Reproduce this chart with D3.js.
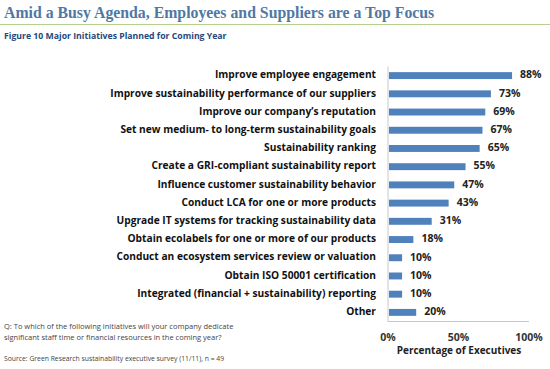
<!DOCTYPE html>
<html>
<head>
<meta charset="utf-8">
<script src="https://cdn.jsdelivr.net/npm/d3@7"></script>
<style>
  body { margin: 0; background: #fff; }
  text { font-family: "Open Sans", "Liberation Sans", sans-serif; }
</style>
</head>
<body>
<div id="chart"></div>
<script>
var width = 550,
    height = 369,
    margin = {top: 66.5, bottom: 47.5, left: 388, right: 21};

var initiatives = [
  "Improve employee engagement",
  "Improve sustainability performance of our suppliers",
  "Improve our company\u2019s reputation",
  "Set new medium- to long-term sustainability goals",
  "Sustainability ranking",
  "Create a GRI-compliant sustainability report",
  "Influence customer sustainability behavior",
  "Conduct LCA for one or more products",
  "Upgrade IT systems for tracking sustainability data",
  "Obtain ecolabels for one or more of our products",
  "Conduct an ecosystem services review or valuation",
  "Obtain ISO 50001 certification",
  "Integrated (financial + sustainability) reporting",
  "Other"
];
var percents = [88, 73, 69, 67, 65, 55, 47, 43, 31, 18, 10, 10, 10, 20];
var xTicks = [0, 50, 100];

var data = initiatives.map(function(d, i) { return {name: d, v: percents[i]}; });

var svg = d3.select('#chart')
    .append('svg')
    .attr('width', width)
    .attr('height', height);

svg.append("rect").attr("width", width).attr("height", height).attr("fill", "#fff");

// heading
svg.append("text")
    .attr("x", 4)
    .attr("y", 18)
    .attr("fill", "#4f78a3")
    .style("font-family", "'Liberation Serif', serif")
    .style("font-weight", "bold")
    .style("font-size", "15.8px")
    .text("Amid a Busy Agenda, Employees and Suppliers are a Top Focus");

svg.append("line")
    .attr("x1", 0).attr("x2", width)
    .attr("y1", 24.5).attr("y2", 24.5)
    .attr("stroke", "#b5cf8c")
    .attr("stroke-width", 1);

svg.append("text")
    .attr("x", 4)
    .attr("y", 39)
    .attr("fill", "#1f497d")
    .style("font-weight", "bold")
    .style("font-size", "8.7px")
    .text("Figure 10 Major Initiatives Planned for Coming Year");

var x = d3.scaleLinear()
    .domain([0, 100])
    .range([margin.left, width - margin.right]);

var y = d3.scaleBand()
    .domain(initiatives)
    .range([margin.top, height - margin.bottom])
    .paddingInner(0.62)
    .paddingOuter(0.31);

// axes lines
svg.append("line")
    .attr("x1", x(0)).attr("x2", x(0))
    .attr("y1", margin.top).attr("y2", height - margin.bottom)
    .attr("stroke", "#c8c8c8");
svg.append("line")
    .attr("x1", x(0)).attr("x2", x(100))
    .attr("y1", height - margin.bottom).attr("y2", height - margin.bottom)
    .attr("stroke", "#c8c8c8");

// bars
svg.append("g").selectAll("rect")
    .data(data)
    .enter().append("rect")
    .attr("x", x(0) + 1)
    .attr("y", function(d) { return y(d.name); })
    .attr("width", function(d) { return x(d.v) - x(0) - 1; })
    .attr("height", y.bandwidth())
    .attr("fill", "#4f81bd");

// value labels
svg.append("g").selectAll("text")
    .data(data)
    .enter().append("text")
    .attr("x", function(d) { return x(d.v) + 8; })
    .attr("y", function(d) { return y(d.name) + y.bandwidth() / 2; })
    .attr("dominant-baseline", "middle")
    .attr("fill", "#222")
    .style("font-weight", "bold")
    .style("font-size", "10.5px")
    .text(function(d) { return d.v + "%"; });

// category labels
svg.append("g").selectAll("text")
    .data(data)
    .enter().append("text")
    .attr("x", 376)
    .attr("y", function(d) { return y(d.name) + y.bandwidth() / 2; })
    .attr("text-anchor", "end")
    .attr("dominant-baseline", "middle")
    .attr("fill", "#111")
    .style("font-weight", "bold")
    .style("font-size", "10.2px")
    .text(function(d) { return d.name; });

// x ticks
svg.append("g").selectAll("text")
    .data(xTicks)
    .enter().append("text")
    .attr("x", function(d) { return x(d); })
    .attr("y", 338)
    .attr("text-anchor", "middle")
    .attr("dominant-baseline", "middle")
    .attr("fill", "#333")
    .style("font-weight", "bold")
    .style("font-size", "10.5px")
    .text(function(d) { return d + "%"; });

svg.append("text")
    .attr("x", 459)
    .attr("y", 351)
    .attr("text-anchor", "middle")
    .attr("dominant-baseline", "middle")
    .attr("fill", "#222")
    .style("font-weight", "bold")
    .style("font-size", "10px")
    .text("Percentage of Executives");

// footnotes
var notes = [
  {t: "Q: To which of the following initiatives will your company dedicate", y: 327, s: 7.5},
  {t: "significant staff time or financial resources in the coming year?", y: 338, s: 7.5},
  {t: "Source: Green Research sustainability executive survey (11/11), n = 49", y: 359, s: 6.8}
];
svg.append("g").selectAll("text")
    .data(notes)
    .enter().append("text")
    .attr("x", 4)
    .attr("y", function(d) { return d.y; })
    .attr("dominant-baseline", "middle")
    .attr("fill", "#444")
    .style("font-size", function(d) { return d.s + "px"; })
    .text(function(d) { return d.t; });
</script>
</body>
</html>
